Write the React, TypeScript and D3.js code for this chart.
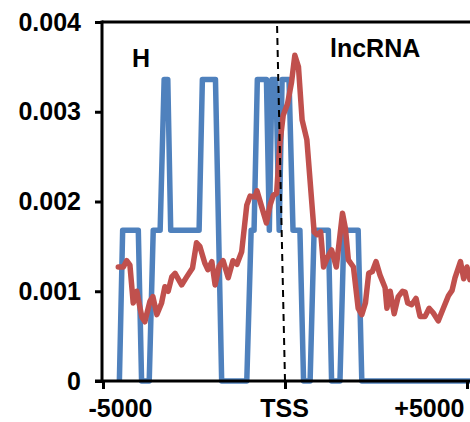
import React, { useEffect, useRef } from 'react';
import * as d3 from 'd3';

const width = 470;
const height = 422;

// H signal: step-like profile, [position (bp), value]
const hSeries: [number, number][] = [
  [-4550, 0], [-4460, 0.00168], [-4030, 0.00168], [-3940, 0], [-3730, 0],
  [-3620, 0.00168], [-3430, 0.00168], [-3320, 0.00336], [-3220, 0.00336],
  [-3140, 0.00168], [-2360, 0.00168], [-2270, 0.00336], [-1910, 0.00336],
  [-1740, 0], [-1050, 0], [-930, 0.00168], [-850, 0.00168], [-760, 0.00336],
  [-510, 0.00336], [-430, 0.00168], [-360, 0.00336], [-250, 0.00336],
  [-160, 0.00168], [-80, 0.00336], [110, 0.00336], [220, 0.00168],
  [410, 0.00168], [510, 0], [690, 0], [800, 0.00168], [1190, 0.00168],
  [1280, 0], [1510, 0], [1620, 0.00168], [2010, 0.00168], [2110, 0],
  [5300, 0],
];

// lncRNA signal, [position (bp), value]
const lncSeries: [number, number][] = [
  [-4580, 0.00127], [-4440, 0.00127], [-4350, 0.00134], [-4260, 0.00129],
  [-4170, 0.00087], [-4070, 0.00100], [-4000, 0.00085], [-3930, 0.00071],
  [-3850, 0.00066], [-3710, 0.00089], [-3630, 0.00094], [-3520, 0.00074],
  [-3390, 0.00087], [-3300, 0.00105], [-3210, 0.00100], [-3110, 0.00116],
  [-3020, 0.00120], [-2840, 0.00107], [-2700, 0.00116], [-2540, 0.00126],
  [-2430, 0.00154], [-2340, 0.00150], [-2200, 0.00131], [-2120, 0.00124],
  [-2010, 0.00133], [-1920, 0.00107], [-1810, 0.00128], [-1700, 0.00134],
  [-1560, 0.00115], [-1430, 0.00134], [-1320, 0.00130], [-1190, 0.00144],
  [-1050, 0.00196], [-960, 0.00206], [-820, 0.00205], [-770, 0.00212],
  [-640, 0.00194], [-510, 0.00176], [-410, 0.00196], [-320, 0.00207],
  [-230, 0.00209], [-140, 0.00265], [-50, 0.00296], [70, 0.00309],
  [180, 0.00333], [270, 0.00363], [370, 0.00350], [470, 0.00291],
  [600, 0.00269], [800, 0.00166], [880, 0.00163], [980, 0.00166],
  [1060, 0.00127], [1170, 0.00138], [1280, 0.00146], [1410, 0.00127],
  [1580, 0.00187], [1660, 0.00170], [1740, 0.00135], [1880, 0.00127],
  [2010, 0.00081], [2110, 0.00074], [2210, 0.00087], [2300, 0.00120],
  [2400, 0.00122], [2500, 0.00133], [2610, 0.00118], [2750, 0.00104],
  [2800, 0.00081], [2890, 0.00100], [3000, 0.00075], [3110, 0.00094],
  [3230, 0.00100], [3300, 0.00099], [3370, 0.00087], [3480, 0.00085],
  [3600, 0.00092], [3710, 0.00072], [3850, 0.00072], [3960, 0.00081],
  [4070, 0.00076], [4210, 0.00067], [4350, 0.00081], [4490, 0.00095],
  [4590, 0.00101], [4670, 0.00115], [4820, 0.00133], [4910, 0.00114],
  [5000, 0.00127], [5080, 0.00113], [5200, 0.00120],
];

const yTicks = [0, 0.001, 0.002, 0.003, 0.004];
const xTicks = [-5000, 0, 5000];
const xTickLabels = ['-5000', 'TSS', '+5000'];

const font = '"Liberation Sans", Arial, sans-serif';

const App = () => {
  const ref = useRef<SVGSVGElement>(null);

  useEffect(() => {
    const svg = d3.select(ref.current);
    svg.selectAll('*').remove();

    const x = d3.scaleLinear([-5000, 5000], [103, 467]);
    const y = d3.scaleLinear([0, 0.004], [381, 22]);

    const line = d3.line<[number, number]>()
      .x(d => x(d[0]))
      .y(d => y(d[1]));

    // series, blue below red
    svg.append('path')
      .datum(hSeries)
      .attr('fill', 'none')
      .attr('stroke', '#4F81BD')
      .attr('stroke-width', 5.5)
      .attr('stroke-linejoin', 'round')
      .attr('d', line);

    svg.append('path')
      .datum(lncSeries)
      .attr('fill', 'none')
      .attr('stroke', '#C0504D')
      .attr('stroke-width', 5.5)
      .attr('stroke-linejoin', 'round')
      .attr('stroke-linecap', 'round')
      .attr('d', line);

    // TSS marker
    svg.append('line')
      .attr('x1', x(0)).attr('y1', y(0))
      .attr('x2', x(-220)).attr('y2', y(0.004))
      .attr('stroke', 'black')
      .attr('stroke-width', 2)
      .attr('stroke-dasharray', '7,5');

    // y axis
    const yAxis = svg.append('g')
      .attr('transform', 'translate(102,0)')
      .call(d3.axisLeft(y)
        .tickValues(yTicks)
        .tickSize(7)
        .tickSizeOuter(0)
        .tickPadding(14)
        .tickFormat(d => (+d === 0 ? '0' : d3.format('.3f')(+d))));
    yAxis.select('.domain').remove();
    yAxis.selectAll('.tick line').attr('stroke-width', 3);
    yAxis.selectAll('.tick text')
      .style('font', `bold 25px ${font}`)
      .attr('fill', 'black');

    svg.append('line')
      .attr('x1', 102).attr('x2', 102)
      .attr('y1', y(0.004) - 1.5).attr('y2', y(0) + 1.5)
      .attr('stroke', 'black').attr('stroke-width', 3);

    // top border
    svg.append('line')
      .attr('x1', 102).attr('x2', width)
      .attr('y1', y(0.004)).attr('y2', y(0.004))
      .attr('stroke', 'black').attr('stroke-width', 3);

    // x axis
    const xAxis = svg.append('g')
      .attr('transform', `translate(0,${y(0)})`)
      .call(d3.axisBottom(x)
        .tickValues(xTicks)
        .tickSize(8)
        .tickSizeOuter(0)
        .tickPadding(13)
        .tickFormat((_, i) => xTickLabels[i]));
    xAxis.select('.domain').remove();
    xAxis.selectAll('.tick line').attr('stroke-width', 3);
    xAxis.selectAll('.tick text')
      .style('font', `bold 25px ${font}`)
      .attr('fill', 'black')
      .attr('y', null)
      .attr('dy', null)
      .attr('transform', 'translate(0,35.5)')
      .attr('text-anchor', (_, i) => (i === 0 ? 'start' : i === 2 ? 'end' : 'middle'))
      .attr('x', (_, i) => (i === 0 ? -15 : i === 2 ? -3 : -1));

    svg.append('line')
      .attr('x1', 95).attr('x2', width)
      .attr('y1', y(0)).attr('y2', y(0))
      .attr('stroke', 'black').attr('stroke-width', 3);

    // labels
    svg.append('text')
      .attr('x', 132).attr('y', 67)
      .style('font', `bold 25px ${font}`)
      .text('H');

    svg.append('text')
      .attr('x', 330).attr('y', 57)
      .style('font', `bold 25px ${font}`)
      .text('lncRNA');
  }, []);

  return (
    <svg
      ref={ref}
      width={width}
      height={height}
      style={{ position: 'absolute', left: 0, top: 0, background: 'white' }}
    />
  );
};

export default App;
